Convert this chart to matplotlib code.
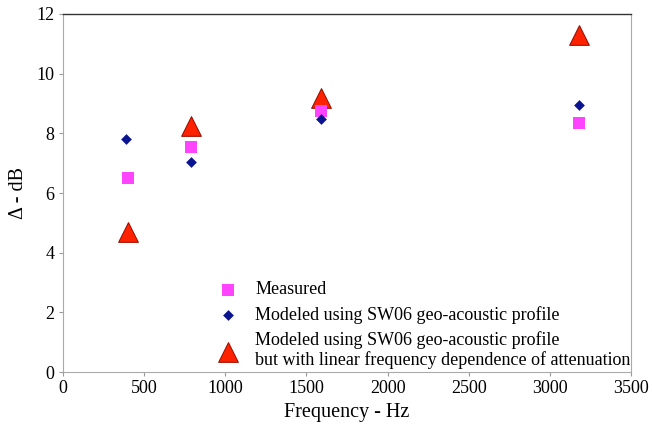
import matplotlib.pyplot as plt

plt.rcParams['font.family'] = ['Liberation Serif', 'DejaVu Serif']

# frequencies (Hz)
freq_meas = [400, 790, 1590, 3180]
freq_mod = [390, 790, 1590, 3180]
freq_lin = [400, 790, 1590, 3180]

# delta (dB)
measured = [6.5, 7.55, 8.75, 8.35]
modeled = [7.8, 7.05, 8.47, 8.95]
modeled_lin = [4.7, 8.25, 9.2, 11.28]

fig = plt.figure(figsize=(6.52, 4.24), dpi=100)
ax = fig.add_axes([0.0966, 0.1226, 0.8714, 0.8444])

ax.scatter(freq_meas, measured, marker='s', s=65, color='#ff44ff', linewidths=0,
           label='Measured', zorder=3)
ax.scatter(freq_mod, modeled, marker='D', s=30, color='#0a1490', linewidths=0,
           label='Modeled using SW06 geo-acoustic profile', zorder=4)
ax.scatter(freq_lin, modeled_lin, marker='^', s=200, color='#ff2200', edgecolors='#a01000',
           linewidths=0.8,
           label='Modeled using SW06 geo-acoustic profile\nbut with linear frequency dependence of attenuation',
           zorder=2)

ax.set_xlim(0, 3500)
ax.set_ylim(0, 12)
ax.set_xticks(range(0, 3501, 500))
ax.set_yticks(range(0, 13, 2))
ax.tick_params(labelsize=13, length=3, color='#999999', pad=3)

for side in ['left', 'bottom', 'right']:
    ax.spines[side].set_color('#aaaaaa')
    ax.spines[side].set_linewidth(0.8)
ax.spines['top'].set_color('#333333')
ax.spines['top'].set_linewidth(1.0)

ax.set_xlabel('Frequency - Hz', fontsize=14.5, labelpad=4)
ax.set_ylabel('Δ - dB', fontsize=14.5, labelpad=6)

ax.legend(loc='lower left', bbox_to_anchor=(0.254, 0.0), frameon=False, fontsize=13,
          handletextpad=0.5, labelspacing=0.4, borderaxespad=0.0, borderpad=0.15,
          scatterpoints=1)

fig.savefig('out.png', dpi=100)
